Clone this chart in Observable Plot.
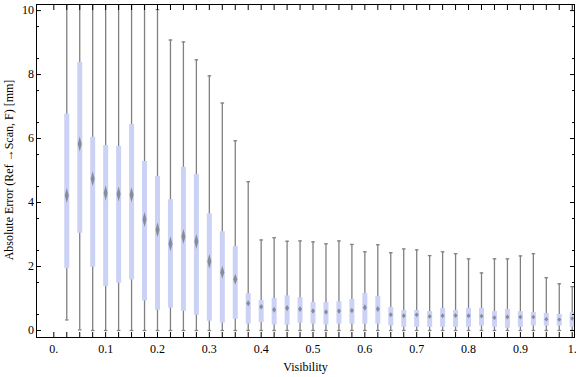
<!DOCTYPE html>
<html><head><meta charset="utf-8">
<script src="https://cdn.jsdelivr.net/npm/d3@7"></script>
<script src="https://cdn.jsdelivr.net/npm/@observablehq/plot@0.6"></script>
<style>body{margin:0;background:#fff}</style>
</head><body><div id="chart"></div>
<script>
// ---- data ----
const visibility = [0.025,0.05,0.075,0.1,0.125,0.15,0.175,0.2,0.225,0.25,0.275,0.3,0.325,0.35,0.375,0.4,0.425,0.45,0.475,0.5,0.525,0.55,0.575,0.6,0.625,0.65,0.675,0.7,0.725,0.75,0.775,0.8,0.825,0.85,0.875,0.9,0.925,0.95,0.975,1.0];
const whiskerLow = [0.33,0.02,0,0,0,0,0,0,0,0,0,0,0,0,0,0,0,0,0,0,0,0,0,0,0,0,0,0,0,0,0,0,0,0,0,0,0,0,0,0];
const quartile1 = [1.93,3.04,1.98,1.375,1.48,1.58,0.92,0.63,0.70,0.60,0.48,0.29,0.23,0.35,0.20,0.25,0.17,0.17,0.23,0.20,0.17,0.20,0.20,0.20,0.20,0.14,0.10,0.10,0.10,0.10,0.10,0.10,0.14,0.10,0.07,0.10,0.14,0.14,0.14,0.10];
const median = [4.22,5.83,4.74,4.30,4.27,4.24,3.47,3.15,2.71,2.94,2.78,2.16,1.82,1.60,0.85,0.74,0.65,0.70,0.67,0.61,0.58,0.61,0.625,0.72,0.67,0.49,0.46,0.49,0.44,0.46,0.47,0.46,0.45,0.40,0.42,0.42,0.42,0.35,0.34,0.375];
const quartile3 = [6.77,8.375,6.04,5.78,5.75,6.44,5.28,4.81,4.09,5.10,4.875,3.65,3.09,2.625,1.15,0.94,1.0,1.08,1.02,0.875,0.875,0.90,0.97,1.16,1.06,0.72,0.625,0.625,0.59,0.69,0.625,0.69,0.69,0.59,0.66,0.59,0.56,0.53,0.50,0.56];
const whiskerHigh = [14,14,14,14,14,14,14,10.03,9.08,9.02,8.46,7.96,7.11,5.93,4.65,2.83,2.90,2.79,2.80,2.77,2.71,2.80,2.69,2.46,2.68,2.43,2.55,2.52,2.34,2.46,2.40,2.24,1.80,2.24,2.24,2.33,2.40,1.65,1.46,1.37];

const xTicks = [0,0.1,0.2,0.3,0.4,0.5,0.6,0.7,0.8,0.9,1.0];
const xTickLabels = ["0.","0.1","0.2","0.3","0.4","0.5","0.6","0.7","0.8","0.9","1."];
const yTicks = [0,2,4,6,8,10];
const yTickLabels = ["0","2","4","6","8","10"];
const xTitle = "Visibility";
const yTitle = "Absolute Error (Ref \u2192Scan, F) [mm]";

// ---- layout ----
const W = 576, H = 377, mL = 36, mR = 2, mT = 4, mB = 40;
const xDomain = [-0.0334, 1.0044], yDomain = [-0.219, 10.19];
const pxPerY = (H - mT - mB) / (yDomain[1] - yDomain[0]);

const rows = visibility.map((v, i) => ({
  v, lo: whiskerLow[i], q1: quartile1[i], med: median[i], q3: quartile3[i], hi: whiskerHigh[i]
}));

const xMinor = d3.range(0, 41).map(i => i * 0.025);
const yMinor = d3.range(1, 20, 2).map(i => i * 0.5);

const diamond = {draw(ctx, size) {
  const h = Math.sqrt(size / Math.PI), w = 2;
  ctx.moveTo(0, -h); ctx.lineTo(w, 0); ctx.lineTo(0, h); ctx.lineTo(-w, 0); ctx.closePath();
}};
const cap = {draw(ctx, size) {
  const r = Math.sqrt(size / Math.PI);
  ctx.moveTo(-r, 0); ctx.lineTo(r, 0);
}};
const medHalf = d => Math.max(1.5, Math.min(7.5, 1.5 + 0.055 * (d.q3 - d.q1) * pxPerY));

const gray = "#808080", boxFill = "#cbd2f5";
const font = "'Liberation Serif','Times New Roman',serif";

const chart = Plot.plot({
  width: W, height: H,
  marginLeft: mL, marginRight: mR, marginTop: mT, marginBottom: mB,
  style: {fontFamily: font, fontSize: "12px", background: "#fff", color: "#000"},
  x: {domain: xDomain},
  y: {domain: yDomain},
  r: {type: "linear", domain: [0, 1], range: [0, 1]},
  marks: [
    Plot.ruleX(rows, {x: "v", y1: "lo", y2: "hi", stroke: gray, strokeWidth: 1.3, clip: true}),
    Plot.dot(rows, {x: "v", y: "lo", symbol: cap, r: 1.8, stroke: gray, strokeWidth: 1.3, fill: "none", clip: true}),
    Plot.dot(rows, {x: "v", y: "hi", symbol: cap, r: 1.8, stroke: gray, strokeWidth: 1.3, fill: "none", clip: true}),
    Plot.ruleX(rows, {x: "v", y1: "q1", y2: "q3", stroke: boxFill, strokeWidth: 5, clip: true}),
    Plot.dot(rows, {x: "v", y: "med", symbol: diamond, r: medHalf, fill: "#666", fillOpacity: 0.65, stroke: "none"}),
    // inward ticks on all four sides
    Plot.axisX({anchor: "bottom", ticks: xMinor, tickSize: 5, dy: -5, tickFormat: () => "", label: null}),
    Plot.axisX({anchor: "top", ticks: xMinor, tickSize: 5, dy: 5, tickFormat: () => "", label: null}),
    Plot.axisY({anchor: "left", ticks: yTicks, tickSize: 5, dx: 5, tickFormat: () => "", label: null}),
    Plot.axisY({anchor: "left", ticks: yMinor, tickSize: 3, dx: 3, tickFormat: () => "", label: null}),
    Plot.axisY({anchor: "right", ticks: yTicks, tickSize: 5, dx: -5, tickFormat: () => "", label: null}),
    Plot.axisY({anchor: "right", ticks: yMinor, tickSize: 3, dx: -3, tickFormat: () => "", label: null}),
    // tick labels
    Plot.axisX({anchor: "bottom", ticks: xTicks, tickSize: 0, tickPadding: 6.5, tickFormat: d => xTickLabels[xTicks.indexOf(d)], label: null}),
    Plot.axisY({anchor: "left", ticks: yTicks, tickSize: 0, tickPadding: 2.5, tickFormat: d => yTickLabels[yTicks.indexOf(d)], label: null}),
    // axis titles
    Plot.text([xTitle], {frameAnchor: "bottom", text: d => d, dy: 30, lineAnchor: "middle", textAnchor: "middle"}),
    Plot.text([yTitle], {frameAnchor: "left", text: d => d, rotate: -90, dx: -27.1, dy: -1, lineAnchor: "middle", textAnchor: "middle"}),
    Plot.frame({stroke: "#000"})
  ]
});
document.getElementById("chart").appendChild(chart);
</script>
</body></html>
